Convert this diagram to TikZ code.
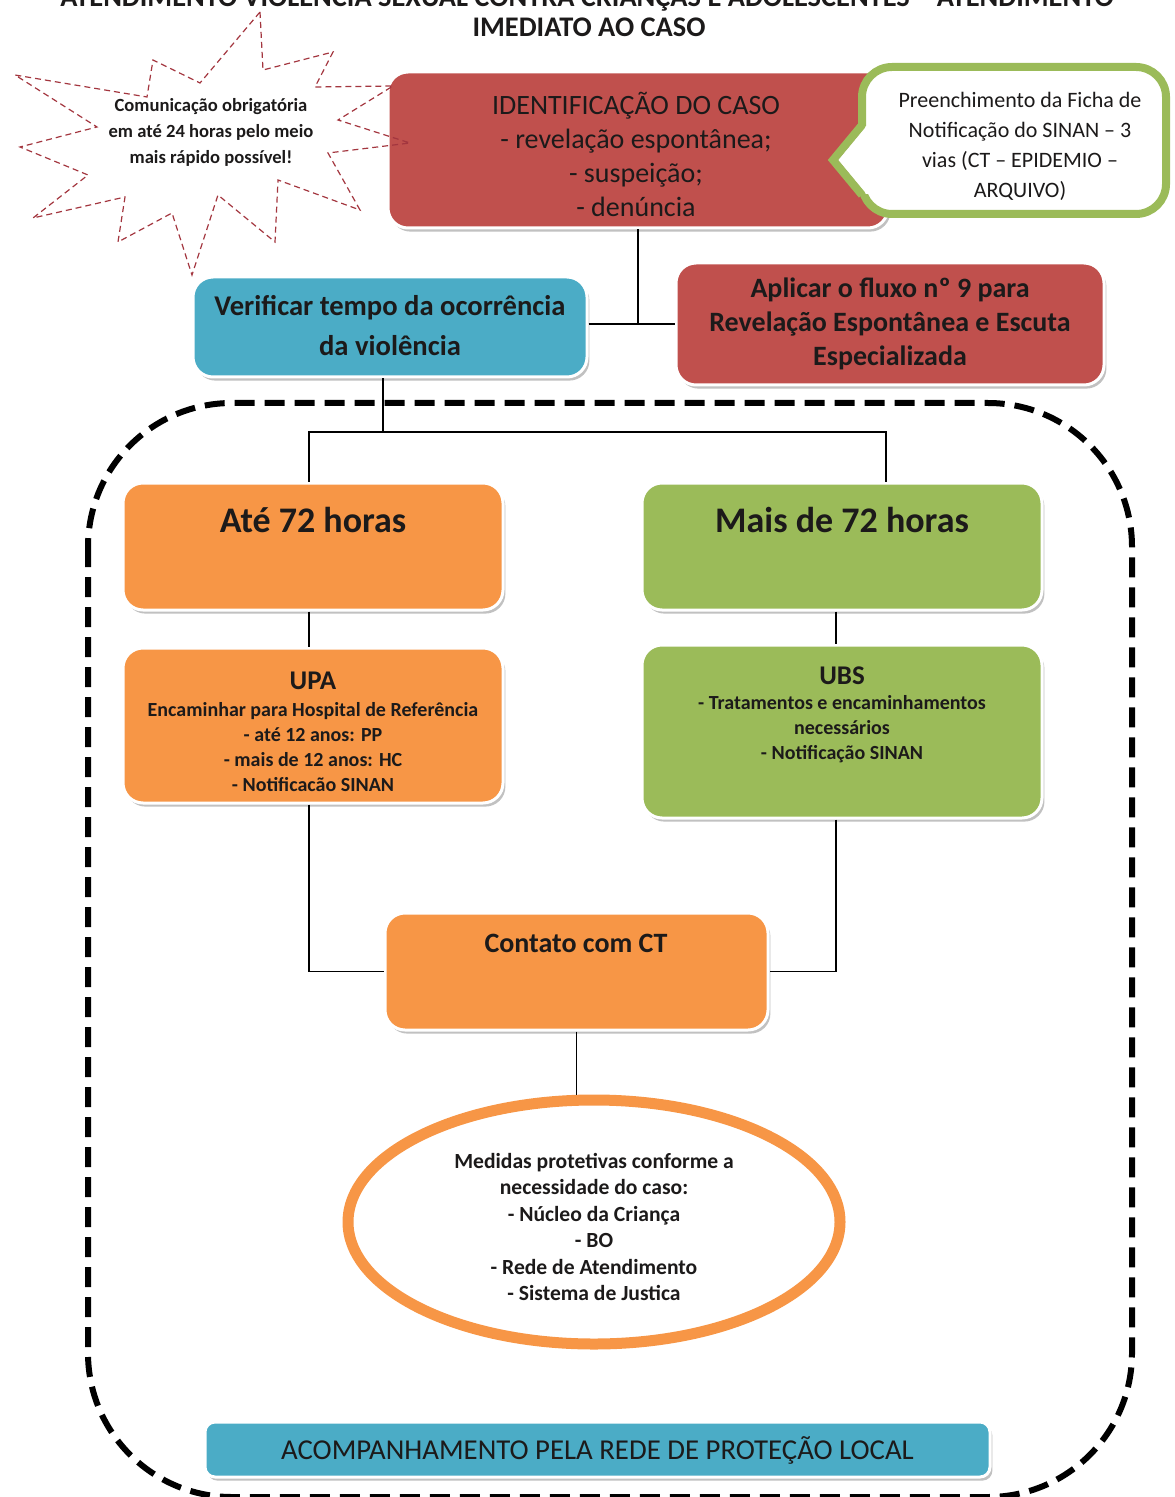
\documentclass[tikz,border=0pt]{standalone}
\usepackage{fontspec}
\setmainfont{Carlito}
\usetikzlibrary{shapes.geometric,shadows}

\definecolor{boxred}{HTML}{C0504D}
\definecolor{boxblue}{HTML}{4BACC6}
\definecolor{boxorange}{HTML}{F79646}
\definecolor{boxgreen}{HTML}{9BBB59}
\definecolor{inkdark}{HTML}{1C1A1A}
\definecolor{starred}{HTML}{A3363F}

\tikzset{
  panel/.style={rounded corners=10pt, draw=white, line width=1.5pt, inner sep=0pt,
    drop shadow={shadow xshift=1.2pt, shadow yshift=-1.8pt, fill=black!70, opacity=0.35}},
  link/.style={draw=black, line width=0.9pt},
  txt/.style={text=inkdark, align=center, inner sep=0pt},
  region/.style={draw=black, line width=3pt, dash pattern=on 10pt off 5pt, rounded corners=72pt},
  burst/.style={draw=starred, line width=0.6pt, dash pattern=on 3pt off 2pt},
  bubbleline/.style={draw=boxgreen, line width=4pt},
}

\begin{document}
\begin{tikzpicture}[x=0.5pt, y=-0.5pt]
\useasboundingbox (0,0) rectangle (1174,1497);

% heading
\node[txt, anchor=base, font=\fontsize{14.2pt}{15pt}\selectfont\bfseries] (title1) at (587,7)
  {ATENDIMENTO VIOLÊNCIA SEXUAL CONTRA CRIANÇAS E ADOLESCENTES – ATENDIMENTO};
\node[txt, anchor=base, font=\fontsize{14.2pt}{15pt}\selectfont\bfseries] (title2) at (589,37)
  {IMEDIATO AO CASO};

% dashed frame around the follow-up part
\draw[region] (88,403) rectangle (1132,1497);

% case identification
\node[panel, fill=boxred, minimum width=250pt, minimum height=78pt] (ident) at (638,150) {};
\node[txt, font=\fontsize{14pt}{17pt}\selectfont] (identtxt) at (636,154)
  {IDENTIFICAÇÃO DO CASO\\- revelação espontânea;\\- suspeição;\\- denúncia};

% starburst note
\draw[burst] (260,12) -- (263,70) -- (333,52) -- (315,87) -- (393,86) -- (338,120)
  -- (410,143) -- (328,153) -- (360,210) -- (278,180) -- (275,242) -- (218,195)
  -- (192,275) -- (172,213) -- (118,242) -- (125,197) -- (33,218) -- (88,175)
  -- (20,147) -- (97,127) -- (15,75) -- (147,97) -- (153,60) -- (200,83) -- cycle;
\node[txt, font=\fontsize{9.3pt}{13pt}\selectfont\bfseries] (alert) at (211,132)
  {Comunicação obrigatória\\em até 24 horas pelo meio\\mais rápido possível!};

% speech bubble
\node[draw=boxgreen, line width=4pt, fill=white, rounded corners=15pt,
  minimum width=152pt, minimum height=73.5pt, inner sep=0pt] (ficha) at (1014,140.5) {};
\fill[white] (838,160) -- (866,126) -- (872,126) -- (872,194) -- (866,194) -- cycle;
\draw[bubbleline, line join=miter] (862,125) -- (833,160) -- (862,195);
\node[txt, font=\fontsize{11pt}{15pt}\selectfont] (fichatxt) at (1020,146)
  {Preenchimento da Ficha de\\Notificação do SINAN – 3\\vias (CT – EPIDEMIO –\\ARQUIVO)};

% second row
\node[panel, fill=boxblue, minimum width=197pt, minimum height=50pt] (verif) at (390,327) {};
\node[txt, font=\fontsize{14.3pt}{20pt}\selectfont\bfseries] (veriftxt) at (390,326)
  {Verificar tempo da ocorrência\\da violência};
\node[panel, fill=boxred, minimum width=214pt, minimum height=61pt] (fluxo) at (890,324) {};
\node[txt, font=\fontsize{14pt}{17pt}\selectfont\bfseries] (fluxotxt) at (890,324)
  {Aplicar o fluxo nº 9 para\\Revelação Espontânea e Escuta\\Especializada};

% time branches
\node[panel, fill=boxorange, minimum width=190pt, minimum height=63.5pt] (ate) at (313,546.5) {};
\node[txt, font=\fontsize{18pt}{20pt}\selectfont\bfseries] (atetxt) at (313,520) {Até 72 horas};
\node[panel, fill=boxgreen, minimum width=200pt, minimum height=63.5pt] (mais) at (842,546.5) {};
\node[txt, font=\fontsize{18pt}{20pt}\selectfont\bfseries] (maistxt) at (842,520) {Mais de 72 horas};

\node[panel, fill=boxorange, minimum width=190pt, minimum height=77.5pt] (upa) at (313,725.5) {};
\node[txt, font=\fontsize{13.5pt}{15pt}\selectfont\bfseries] (upatitle) at (313,681) {UPA};
\node[txt, font=\fontsize{10pt}{12.5pt}\selectfont\bfseries] (upatxt) at (313,747)
  {Encaminhar para Hospital de Referência\\- até 12 anos: PP\\- mais de 12 anos: HC\\- Notificacão SINAN};

\node[panel, fill=boxgreen, minimum width=200pt, minimum height=86.5pt] (ubs) at (842,731.5) {};
\node[txt, font=\fontsize{13.5pt}{15pt}\selectfont\bfseries] (ubstitle) at (842,676) {UBS};
\node[txt, font=\fontsize{10pt}{12.5pt}\selectfont\bfseries] (ubstxt) at (842,729.5)
  {- Tratamentos e encaminhamentos\\necessários\\- Notificação SINAN};

\node[panel, fill=boxorange, minimum width=191.5pt, minimum height=58.5pt] (contato) at (576.5,971.5) {};
\node[txt, font=\fontsize{14pt}{15pt}\selectfont\bfseries] (contatotxt) at (576,943) {Contato com CT};

\node[ellipse, draw=boxorange, line width=5.5pt, fill=white,
  minimum width=246pt, minimum height=122pt] (medidas) at (594,1222) {};
\node[txt, font=\fontsize{10.8pt}{13.25pt}\selectfont\bfseries] (medidastxt) at (594,1227)
  {Medidas protetivas conforme a\\necessidade do caso:\\- Núcleo da Criança\\- BO\\- Rede de Atendimento\\- Sistema de Justica};

\node[panel, rounded corners=5pt, fill=boxblue, minimum width=392.5pt, minimum height=27.5pt] (acomp) at (597.5,1449.5) {};
\node[txt, font=\fontsize{14.4pt}{15pt}\selectfont] (acomptxt) at (597.5,1450)
  {ACOMPANHAMENTO PELA REDE DE PROTEÇÃO LOCAL};

% connectors
\coordinate (fork) at (383,432);
\coordinate (forkL) at (309,432);
\coordinate (forkR) at (886,432);
\coordinate (colR) at (836,0);
\draw[link] (ident.south) -- (ident.south |- fluxo.west);
\draw[link] (verif.east |- fluxo.west) -- (fluxo.west);
\draw[link] (verif.south -| fork) -- (fork);
\draw[link] (ate.north -| forkL) |- (forkR) -- (mais.north -| forkR);
\draw[link] (ate.south -| forkL) -- (upa.north -| forkL);
\draw[link] (mais.south -| colR) -- (ubs.north -| colR);
\draw[link] (upa.south -| forkL) |- (contato.west);
\draw[link] (ubs.south -| colR) |- (contato.east);
\draw[link] (contato.south) -- (contato.south |- medidas.north);
\end{tikzpicture}
\end{document}
